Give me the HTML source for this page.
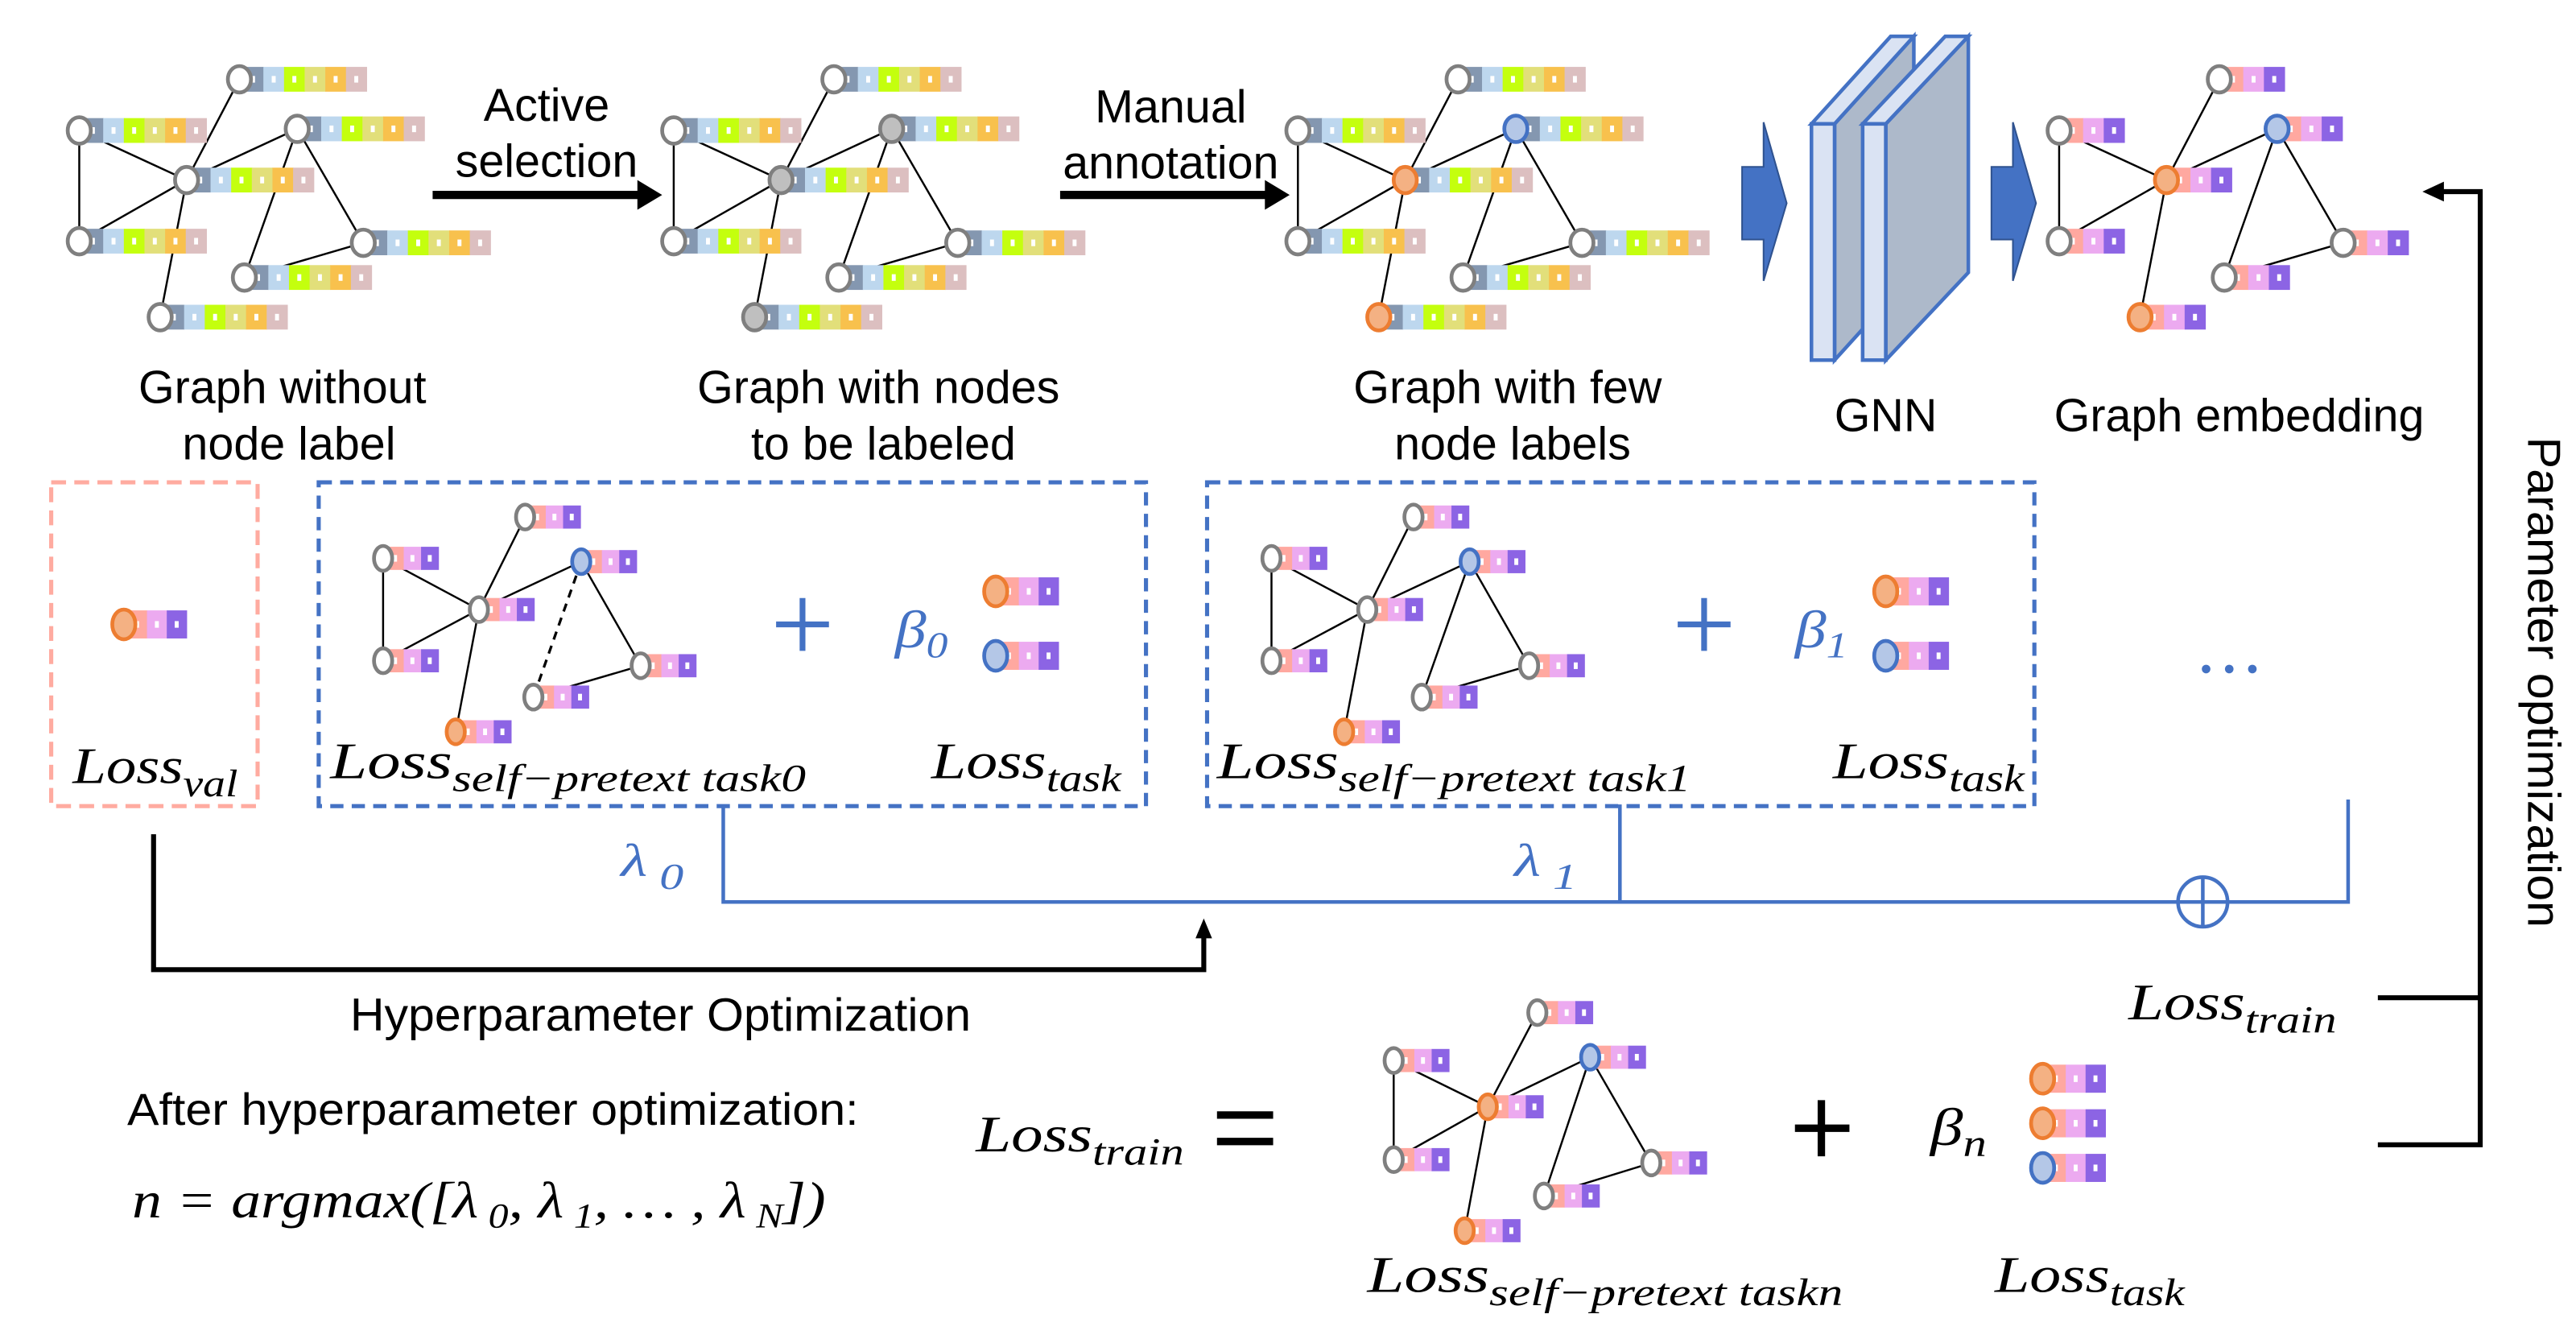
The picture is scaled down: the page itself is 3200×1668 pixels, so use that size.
<!DOCTYPE html>
<html><head><meta charset="utf-8"><style>
html,body{margin:0;padding:0;background:#fff;}
svg{display:block;}
.s{font-family:"Liberation Sans",sans-serif;fill:#000;}
.m{font-family:"Liberation Serif",serif;font-style:italic;}
</style></head><body>
<svg id="sv" width="3200" height="1668" viewBox="0 0 1560 813" preserveAspectRatio="none" xmlns="http://www.w3.org/2000/svg">
<rect width="1560" height="813" fill="#fff"/>
<g id="edges" stroke="#000" stroke-width="1.2" fill="none"></g>
<g id="nodes"></g>

<line x1="262" y1="118" x2="388" y2="118" stroke="#000" stroke-width="5"/>
<polygon points="386,109 401,118 386,127" fill="#000"/>
<line x1="642" y1="118" x2="768" y2="118" stroke="#000" stroke-width="5"/>
<polygon points="766,109 781,118 766,127" fill="#000"/>
<text class="s" x="331" y="73" font-size="28" text-anchor="middle">Active</text>
<text class="s" x="331" y="107" font-size="28" text-anchor="middle">selection</text>
<text class="s" x="709" y="74" font-size="28" text-anchor="middle">Manual</text>
<text class="s" x="709" y="108" font-size="28" text-anchor="middle">annotation</text>

<g fill="#4472c4" stroke="#2f528f" stroke-width="1">
<polygon points="1055,101 1068,101 1068,74 1082,123 1068,170 1068,145 1055,145"/>
<polygon points="1206,101 1219,101 1219,74 1233,123 1219,170 1219,145 1206,145"/>
</g>
<g stroke="#4472c4" stroke-width="2.2" stroke-linejoin="miter">
<polygon points="1111,75 1159,22 1159,165 1111,218" fill="#adb9ca"/>
<polygon points="1097,75 1111,75 1159,22 1145,22" fill="#dae3f3"/>
<rect x="1097" y="75" width="14" height="143" fill="#dae3f3"/>
<polygon points="1142,75 1192,22 1192,165 1142,218" fill="#adb9ca"/>
<polygon points="1128,75 1142,75 1192,22 1178,22" fill="#dae3f3"/>
<rect x="1128" y="75" width="14" height="143" fill="#dae3f3"/>
</g>

<g class="s" font-size="28" text-anchor="middle">
<text x="171" y="244">Graph without</text>
<text x="175" y="278">node label</text>
<text x="532" y="244">Graph with nodes</text>
<text x="535" y="278">to be labeled</text>
<text x="913" y="244">Graph with few</text>
<text x="916" y="278">node labels</text>
<text x="1142" y="261">GNN</text>
<text x="1356" y="261">Graph embedding</text>
</g>

<rect x="31" y="292" width="125" height="196" fill="none" stroke="#ffaba0" stroke-width="2.5" stroke-dasharray="9,5"/>
<rect x="193" y="292" width="501" height="196" fill="none" stroke="#4472c4" stroke-width="2.5" stroke-dasharray="8,5"/>
<rect x="731" y="292" width="501" height="196" fill="none" stroke="#4472c4" stroke-width="2.5" stroke-dasharray="8,5"/>

<g stroke="#4472c4" stroke-width="3.5">
<line x1="470" y1="378" x2="502" y2="378"/><line x1="486" y1="362" x2="486" y2="394"/>
<line x1="1016" y1="378" x2="1048" y2="378"/><line x1="1032" y1="362" x2="1032" y2="394"/>
</g>
<text class="m" x="542" y="392" font-size="32" fill="#4472c4" textLength="32" lengthAdjust="spacingAndGlyphs">β<tspan font-size="22" dy="6">0</tspan></text>
<text class="m" x="1087" y="392" font-size="32" fill="#4472c4" textLength="32" lengthAdjust="spacingAndGlyphs">β<tspan font-size="22" dy="6">1</tspan></text>
<g fill="#4472c4"><circle cx="1336" cy="405" r="2.6"/><circle cx="1350" cy="405" r="2.6"/><circle cx="1364" cy="405" r="2.6"/></g>

<g class="m" fill="#000" lengthAdjust="spacingAndGlyphs">
<text x="44" y="474" font-size="31" textLength="100" lengthAdjust="spacingAndGlyphs">Loss<tspan font-size="23" dy="8">val</tspan></text>
<text x="200" y="471" font-size="31" textLength="288" lengthAdjust="spacingAndGlyphs">Loss<tspan font-size="23" dy="8">self−pretext task0</tspan></text>
<text x="564" y="471" font-size="31" textLength="115" lengthAdjust="spacingAndGlyphs">Loss<tspan font-size="23" dy="8">task</tspan></text>
<text x="737" y="471" font-size="31" textLength="287" lengthAdjust="spacingAndGlyphs">Loss<tspan font-size="23" dy="8">self−pretext task1</tspan></text>
<text x="1110" y="471" font-size="31" textLength="116" lengthAdjust="spacingAndGlyphs">Loss<tspan font-size="23" dy="8">task</tspan></text>
<text x="1289" y="617" font-size="31" textLength="126" lengthAdjust="spacingAndGlyphs">Loss<tspan font-size="23" dy="8">train</tspan></text>
<text x="591" y="697" font-size="31" textLength="126" lengthAdjust="spacingAndGlyphs">Loss<tspan font-size="23" dy="8">train</tspan></text>
<text x="828" y="782" font-size="31" textLength="288" lengthAdjust="spacingAndGlyphs">Loss<tspan font-size="23" dy="8">self−pretext taskn</tspan></text>
<text x="1208" y="782" font-size="31" textLength="115" lengthAdjust="spacingAndGlyphs">Loss<tspan font-size="23" dy="8">task</tspan></text>
<text x="1169" y="693" font-size="32" textLength="34" lengthAdjust="spacingAndGlyphs">β<tspan font-size="23" dy="7">n</tspan></text>
</g>

<g stroke="#4472c4" stroke-width="2.2" fill="none">
<polyline points="438,488 438,546 1422,546 1422,484"/>
<line x1="981" y1="487" x2="981" y2="546"/>
<circle cx="1334" cy="546" r="15" fill="#fff"/>
<line x1="1319" y1="546" x2="1349" y2="546"/><line x1="1334" y1="531" x2="1334" y2="561"/>
</g>
<text class="m" x="376" y="530" font-size="28" fill="#4472c4" textLength="38" lengthAdjust="spacingAndGlyphs">λ<tspan font-size="22" dy="8"> 0</tspan></text>
<text class="m" x="917" y="530" font-size="28" fill="#4472c4" textLength="38" lengthAdjust="spacingAndGlyphs">λ<tspan font-size="22" dy="8"> 1</tspan></text>

<g stroke="#000" stroke-width="3" fill="none">
<polyline points="93,505 93,587 729,587 729,566"/>
<polyline points="1440,604 1502,604"/>
<polyline points="1440,693 1502,693 1502,116 1478,116"/>
</g>
<polygon points="724,568 729,556 734,568" fill="#000"/>
<polygon points="1480,110 1467,116 1480,122" fill="#000"/>
<text class="s" x="400" y="624" font-size="28" text-anchor="middle" textLength="376" lengthAdjust="spacingAndGlyphs">Hyperparameter Optimization</text>
<text class="s" transform="translate(1531,413) rotate(90)" font-size="28" text-anchor="middle" textLength="297" lengthAdjust="spacingAndGlyphs">Parameter optimization</text>

<text class="s" x="77" y="681" font-size="27" textLength="443" lengthAdjust="spacingAndGlyphs">After hyperparameter optimization:</text>
<text class="m" x="80" y="737" font-size="31" textLength="420" lengthAdjust="spacingAndGlyphs">n = argmax([λ<tspan font-size="21" dy="6"> 0</tspan><tspan dy="-6">, λ</tspan><tspan font-size="21" dy="6"> 1</tspan><tspan dy="-6">, … , λ</tspan><tspan font-size="21" dy="6"> N</tspan><tspan dy="-6">])</tspan></text>

<g stroke="#000" stroke-width="4.5">
<line x1="737" y1="675" x2="771" y2="675"/><line x1="737" y1="691" x2="771" y2="691"/>
<line x1="1087" y1="683" x2="1120" y2="683"/><line x1="1103" y1="666" x2="1103" y2="700"/>
</g>
</svg>
<script>
(function(){
var NS="http://www.w3.org/2000/svg";
var E=document.getElementById("edges"),N=document.getElementById("nodes");
function el(p,t,a){var e=document.createElementNS(NS,t);for(var k in a)e.setAttribute(k,a[k]);p.appendChild(e);return e;}
var RAW=['#8497b0','#bdd7ee','#c4ff0e','#e2df7a','#f8c14d','#dcbfc0'];
var EMB=['#ffa8a0','#ecaaf0','#8c64e4'];
var ST={w:['#fff','#7f7f7f'],g:['#bfbfbf','#7f7f7f'],o:['#f4b183','#ed7d31'],b:['#b4c7e7','#4472c4']};
function node(cx,cy,k,cols,cw,ch,rx,ry){
  var x=cx+2;
  for(var i=0;i<cols.length;i++){
    el(N,'rect',{x:x+i*cw,y:cy-ch/2,width:cw+0.3,height:ch,fill:cols[i]});
    el(N,'rect',{x:x+i*cw+cw/2-1.2,y:cy-2,width:2.4,height:4,fill:'#fff'});
  }
  el(N,'ellipse',{cx:cx,cy:cy,rx:rx,ry:ry,fill:ST[k][0],stroke:ST[k][1],'stroke-width':2.3});
}
function line(a,b,d){var l=el(E,'line',{x1:a[0],y1:a[1],x2:b[0],y2:b[1]});if(d){l.setAttribute('stroke-dasharray','5,4');l.setAttribute('stroke-width','1.6');}}
var P={A:[145,48],B:[48,79],C:[180,78],D:[113,109],E:[48,146],F:[220,147],G:[148,168],H:[97,192]};
var EDG=[['A','D'],['D','H'],['B','E'],['B','D'],['D','C'],['D','E'],['C','G'],['C','F'],['F','G']];
function big(off,kinds,cols,cw,ch){
  EDG.forEach(function(e){line([P[e[0]][0]+off,P[e[0]][1]],[P[e[1]][0]+off,P[e[1]][1]]);});
  for(var k in P){node(P[k][0]+off,P[k][1],kinds[k]||'w',cols,cw,ch,7,8);}
}
big(0,{},RAW,12.5,15);
big(360,{D:'g',H:'g',C:'g'},RAW,12.5,15);
big(738,{D:'o',H:'o',C:'b'},RAW,12.5,15);
big(1199,{D:'o',H:'o',C:'b'},EMB,12.5,15);
function small(Q,kinds,dashed){
  line(Q.L,Q.LL);line(Q.L,Q.C);line(Q.T,Q.C);line(Q.C,Q.O);line(Q.C,Q.Bl);line(Q.C,Q.LL);
  line(Q.Bl,Q.R);line(Q.R,Q.BM);line(Q.Bl,Q.BM,dashed);
  for(var k in Q){node(Q[k][0],Q[k][1],kinds[k]||'w',EMB,10.5,14,5.5,7.5);}
}
function sh(dx,dy){var b={T:[318,313],L:[232,338],Bl:[352,340],C:[290,369],LL:[232,400],R:[388,403],BM:[323,422],O:[276,443]};var r={};for(var k in b)r[k]=[b[k][0]+dx,b[k][1]+dy];return r;}
small(sh(0,0),{Bl:'b',O:'o'},true);
small(sh(538,0),{Bl:'b',O:'o'},false);
var q3={T:[931,613],L:[844,642],Bl:[963,640],C:[901,670],LL:[844,702],R:[1000,704],BM:[935,724],O:[887,745]};
small(q3,{Bl:'b',C:'o',O:'o'},false);
node(75,378,'o',EMB,12,17,7,9);
node(603,358,'o',EMB,12,17,7,9);
node(603,397,'b',EMB,12,17,7,9);
node(1142,358,'o',EMB,12,17,7,9);
node(1142,397,'b',EMB,12,17,7,9);
node(1237,653,'o',EMB,12,17,7,9);
node(1237,680,'o',EMB,12,17,7,9);
node(1237,707,'b',EMB,12,17,7,9);
})();
</script>
</body></html>
